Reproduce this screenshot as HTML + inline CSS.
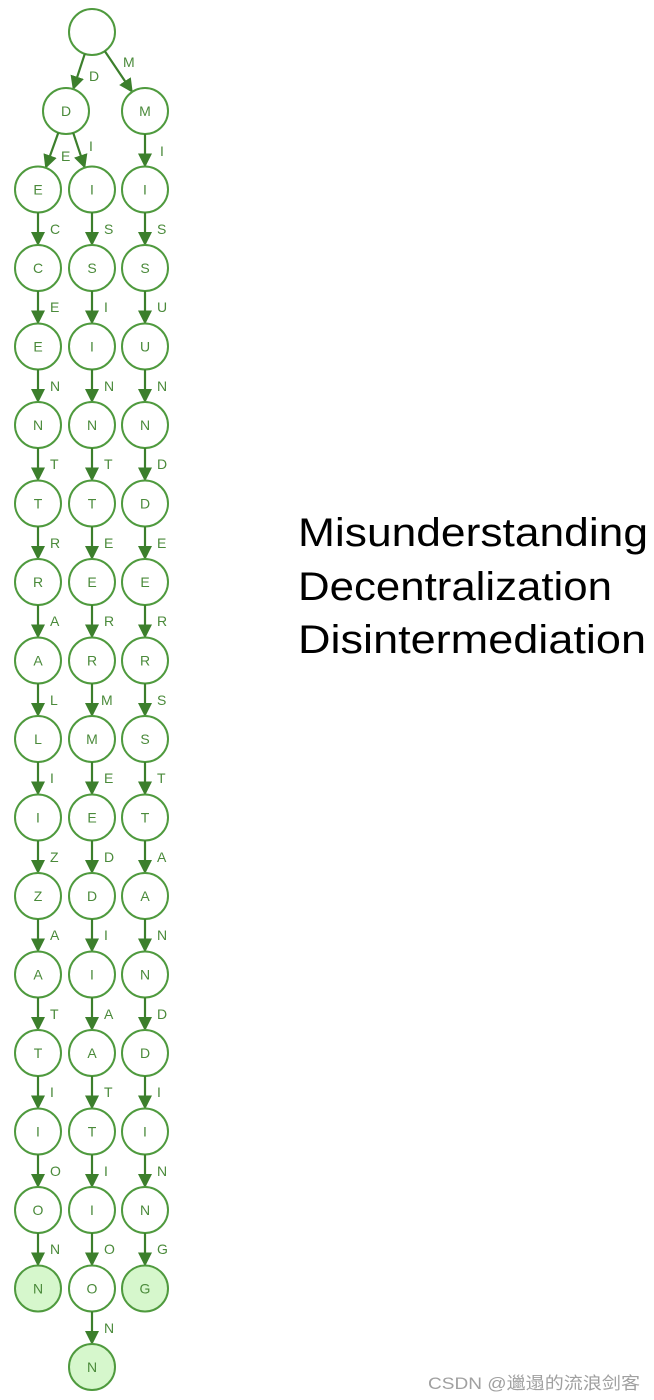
<!DOCTYPE html>
<html><head><meta charset="utf-8"><style>
html,body{margin:0;padding:0;background:#fff;width:654px;height:1400px;overflow:hidden}
svg{display:block}
.n{fill:#fff;stroke:#4f9a3e;stroke-width:2}
.lf{fill:#d6f7cc;stroke:#4f9a3e;stroke-width:2}
.e{stroke:#3c7f2c;stroke-width:2.2;fill:none;marker-end:url(#a)}
.t{font-family:"Liberation Sans",sans-serif;font-size:14px;fill:#4a8a3a;text-anchor:middle}
.l{font-family:"Liberation Sans",sans-serif;font-size:14px;fill:#4a8a3a}
.big{font-family:"Liberation Sans",sans-serif;font-size:40px;fill:#000}
</style></head><body>
<svg width="654" height="1400" viewBox="0 0 654 1400">
<defs><marker id="a" markerWidth="16" markerHeight="16" refX="13" refY="7" orient="auto" markerUnits="userSpaceOnUse"><path d="M0,0 L14,7 L0,14 z" fill="#3c7f2c"/></marker></defs>
<circle class="n" cx="92" cy="32" r="23"/>
<line class="e" x1="84.8" y1="53.8" x2="73.2" y2="89.2"/>
<line class="e" x1="104.8" y1="51.1" x2="132.2" y2="91.9"/>
<text class="l" x="89" y="81">D</text>
<text class="l" x="123" y="67">M</text>
<circle class="n" cx="66" cy="111" r="23"/><text class="t" x="66" y="116">D</text>
<circle class="n" cx="145" cy="111" r="23"/><text class="t" x="145" y="116">M</text>
<line class="e" x1="58.3" y1="132.7" x2="45.7" y2="167.8"/>
<line class="e" x1="73.2" y1="132.8" x2="84.8" y2="167.7"/>
<text class="l" x="61" y="161">E</text>
<text class="l" x="89" y="151">I</text>
<line class="e" x1="145" y1="134" x2="145" y2="166.5"/><text class="l" x="160" y="156">I</text>

<g>
<circle class="n" cx="38" cy="189.5" r="23"/><text class="t" x="38" y="194.5">E</text>
<line class="e" x1="38" y1="212.5" x2="38" y2="245"/><text class="l" x="50" y="234">C</text>
<circle class="n" cx="38" cy="268" r="23"/><text class="t" x="38" y="273">C</text>
<line class="e" x1="38" y1="291" x2="38" y2="323.5"/><text class="l" x="50" y="312">E</text>
<circle class="n" cx="38" cy="346.5" r="23"/><text class="t" x="38" y="351.5">E</text>
<line class="e" x1="38" y1="369.5" x2="38" y2="402"/><text class="l" x="50" y="391">N</text>
<circle class="n" cx="38" cy="425" r="23"/><text class="t" x="38" y="430">N</text>
<line class="e" x1="38" y1="448" x2="38" y2="480.5"/><text class="l" x="50" y="469">T</text>
<circle class="n" cx="38" cy="503.5" r="23"/><text class="t" x="38" y="508.5">T</text>
<line class="e" x1="38" y1="526.5" x2="38" y2="559"/><text class="l" x="50" y="548">R</text>
<circle class="n" cx="38" cy="582" r="23"/><text class="t" x="38" y="587">R</text>
<line class="e" x1="38" y1="605" x2="38" y2="637.5"/><text class="l" x="50" y="626">A</text>
<circle class="n" cx="38" cy="660.5" r="23"/><text class="t" x="38" y="665.5">A</text>
<line class="e" x1="38" y1="683.5" x2="38" y2="716"/><text class="l" x="50" y="705">L</text>
<circle class="n" cx="38" cy="739" r="23"/><text class="t" x="38" y="744">L</text>
<line class="e" x1="38" y1="762" x2="38" y2="794.5"/><text class="l" x="50" y="783">I</text>
<circle class="n" cx="38" cy="817.5" r="23"/><text class="t" x="38" y="822.5">I</text>
<line class="e" x1="38" y1="840.5" x2="38" y2="873"/><text class="l" x="50" y="862">Z</text>
<circle class="n" cx="38" cy="896" r="23"/><text class="t" x="38" y="901">Z</text>
<line class="e" x1="38" y1="919" x2="38" y2="951.5"/><text class="l" x="50" y="940">A</text>
<circle class="n" cx="38" cy="974.5" r="23"/><text class="t" x="38" y="979.5">A</text>
<line class="e" x1="38" y1="997.5" x2="38" y2="1030"/><text class="l" x="50" y="1019">T</text>
<circle class="n" cx="38" cy="1053" r="23"/><text class="t" x="38" y="1058">T</text>
<line class="e" x1="38" y1="1076" x2="38" y2="1108.5"/><text class="l" x="50" y="1097">I</text>
<circle class="n" cx="38" cy="1131.5" r="23"/><text class="t" x="38" y="1136.5">I</text>
<line class="e" x1="38" y1="1154.5" x2="38" y2="1187"/><text class="l" x="50" y="1176">O</text>
<circle class="n" cx="38" cy="1210" r="23"/><text class="t" x="38" y="1215">O</text>
<line class="e" x1="38" y1="1233" x2="38" y2="1265.5"/><text class="l" x="50" y="1254">N</text>
<circle class="lf" cx="38" cy="1288.5" r="23"/><text class="t" x="38" y="1293.5">N</text>
</g>

<g>
<circle class="n" cx="92" cy="189.5" r="23"/><text class="t" x="92" y="194.5">I</text>
<line class="e" x1="92" y1="212.5" x2="92" y2="245"/><text class="l" x="104" y="234">S</text>
<circle class="n" cx="92" cy="268" r="23"/><text class="t" x="92" y="273">S</text>
<line class="e" x1="92" y1="291" x2="92" y2="323.5"/><text class="l" x="104" y="312">I</text>
<circle class="n" cx="92" cy="346.5" r="23"/><text class="t" x="92" y="351.5">I</text>
<line class="e" x1="92" y1="369.5" x2="92" y2="402"/><text class="l" x="104" y="391">N</text>
<circle class="n" cx="92" cy="425" r="23"/><text class="t" x="92" y="430">N</text>
<line class="e" x1="92" y1="448" x2="92" y2="480.5"/><text class="l" x="104" y="469">T</text>
<circle class="n" cx="92" cy="503.5" r="23"/><text class="t" x="92" y="508.5">T</text>
<line class="e" x1="92" y1="526.5" x2="92" y2="559"/><text class="l" x="104" y="548">E</text>
<circle class="n" cx="92" cy="582" r="23"/><text class="t" x="92" y="587">E</text>
<line class="e" x1="92" y1="605" x2="92" y2="637.5"/><text class="l" x="104" y="626">R</text>
<circle class="n" cx="92" cy="660.5" r="23"/><text class="t" x="92" y="665.5">R</text>
<line class="e" x1="92" y1="683.5" x2="92" y2="716"/><text class="l" x="101" y="705">M</text>
<circle class="n" cx="92" cy="739" r="23"/><text class="t" x="92" y="744">M</text>
<line class="e" x1="92" y1="762" x2="92" y2="794.5"/><text class="l" x="104" y="783">E</text>
<circle class="n" cx="92" cy="817.5" r="23"/><text class="t" x="92" y="822.5">E</text>
<line class="e" x1="92" y1="840.5" x2="92" y2="873"/><text class="l" x="104" y="862">D</text>
<circle class="n" cx="92" cy="896" r="23"/><text class="t" x="92" y="901">D</text>
<line class="e" x1="92" y1="919" x2="92" y2="951.5"/><text class="l" x="104" y="940">I</text>
<circle class="n" cx="92" cy="974.5" r="23"/><text class="t" x="92" y="979.5">I</text>
<line class="e" x1="92" y1="997.5" x2="92" y2="1030"/><text class="l" x="104" y="1019">A</text>
<circle class="n" cx="92" cy="1053" r="23"/><text class="t" x="92" y="1058">A</text>
<line class="e" x1="92" y1="1076" x2="92" y2="1108.5"/><text class="l" x="104" y="1097">T</text>
<circle class="n" cx="92" cy="1131.5" r="23"/><text class="t" x="92" y="1136.5">T</text>
<line class="e" x1="92" y1="1154.5" x2="92" y2="1187"/><text class="l" x="104" y="1176">I</text>
<circle class="n" cx="92" cy="1210" r="23"/><text class="t" x="92" y="1215">I</text>
<line class="e" x1="92" y1="1233" x2="92" y2="1265.5"/><text class="l" x="104" y="1254">O</text>
<circle class="n" cx="92" cy="1288.5" r="23"/><text class="t" x="92" y="1293.5">O</text>
<line class="e" x1="92" y1="1311.5" x2="92" y2="1344"/><text class="l" x="104" y="1333">N</text>
<circle class="lf" cx="92" cy="1367" r="23"/><text class="t" x="92" y="1372">N</text>
</g>

<g>
<circle class="n" cx="145" cy="189.5" r="23"/><text class="t" x="145" y="194.5">I</text>
<line class="e" x1="145" y1="212.5" x2="145" y2="245"/><text class="l" x="157" y="234">S</text>
<circle class="n" cx="145" cy="268" r="23"/><text class="t" x="145" y="273">S</text>
<line class="e" x1="145" y1="291" x2="145" y2="323.5"/><text class="l" x="157" y="312">U</text>
<circle class="n" cx="145" cy="346.5" r="23"/><text class="t" x="145" y="351.5">U</text>
<line class="e" x1="145" y1="369.5" x2="145" y2="402"/><text class="l" x="157" y="391">N</text>
<circle class="n" cx="145" cy="425" r="23"/><text class="t" x="145" y="430">N</text>
<line class="e" x1="145" y1="448" x2="145" y2="480.5"/><text class="l" x="157" y="469">D</text>
<circle class="n" cx="145" cy="503.5" r="23"/><text class="t" x="145" y="508.5">D</text>
<line class="e" x1="145" y1="526.5" x2="145" y2="559"/><text class="l" x="157" y="548">E</text>
<circle class="n" cx="145" cy="582" r="23"/><text class="t" x="145" y="587">E</text>
<line class="e" x1="145" y1="605" x2="145" y2="637.5"/><text class="l" x="157" y="626">R</text>
<circle class="n" cx="145" cy="660.5" r="23"/><text class="t" x="145" y="665.5">R</text>
<line class="e" x1="145" y1="683.5" x2="145" y2="716"/><text class="l" x="157" y="705">S</text>
<circle class="n" cx="145" cy="739" r="23"/><text class="t" x="145" y="744">S</text>
<line class="e" x1="145" y1="762" x2="145" y2="794.5"/><text class="l" x="157" y="783">T</text>
<circle class="n" cx="145" cy="817.5" r="23"/><text class="t" x="145" y="822.5">T</text>
<line class="e" x1="145" y1="840.5" x2="145" y2="873"/><text class="l" x="157" y="862">A</text>
<circle class="n" cx="145" cy="896" r="23"/><text class="t" x="145" y="901">A</text>
<line class="e" x1="145" y1="919" x2="145" y2="951.5"/><text class="l" x="157" y="940">N</text>
<circle class="n" cx="145" cy="974.5" r="23"/><text class="t" x="145" y="979.5">N</text>
<line class="e" x1="145" y1="997.5" x2="145" y2="1030"/><text class="l" x="157" y="1019">D</text>
<circle class="n" cx="145" cy="1053" r="23"/><text class="t" x="145" y="1058">D</text>
<line class="e" x1="145" y1="1076" x2="145" y2="1108.5"/><text class="l" x="157" y="1097">I</text>
<circle class="n" cx="145" cy="1131.5" r="23"/><text class="t" x="145" y="1136.5">I</text>
<line class="e" x1="145" y1="1154.5" x2="145" y2="1187"/><text class="l" x="157" y="1176">N</text>
<circle class="n" cx="145" cy="1210" r="23"/><text class="t" x="145" y="1215">N</text>
<line class="e" x1="145" y1="1233" x2="145" y2="1265.5"/><text class="l" x="157" y="1254">G</text>
<circle class="lf" cx="145" cy="1288.5" r="23"/><text class="t" x="145" y="1293.5">G</text>
</g>

<text class="big" x="298" y="546" textLength="350" lengthAdjust="spacingAndGlyphs">Misunderstanding</text>
<text class="big" x="298" y="600" textLength="314" lengthAdjust="spacingAndGlyphs">Decentralization</text>
<text class="big" x="298" y="653" textLength="348" lengthAdjust="spacingAndGlyphs">Disintermediation</text>

<text x="428" y="1389" font-family="Liberation Sans, Noto Sans CJK SC, sans-serif" font-size="17" fill="#a0a0a0" textLength="212" lengthAdjust="spacingAndGlyphs">CSDN @邋遢的流浪剑客</text>
</svg>
</body></html>
